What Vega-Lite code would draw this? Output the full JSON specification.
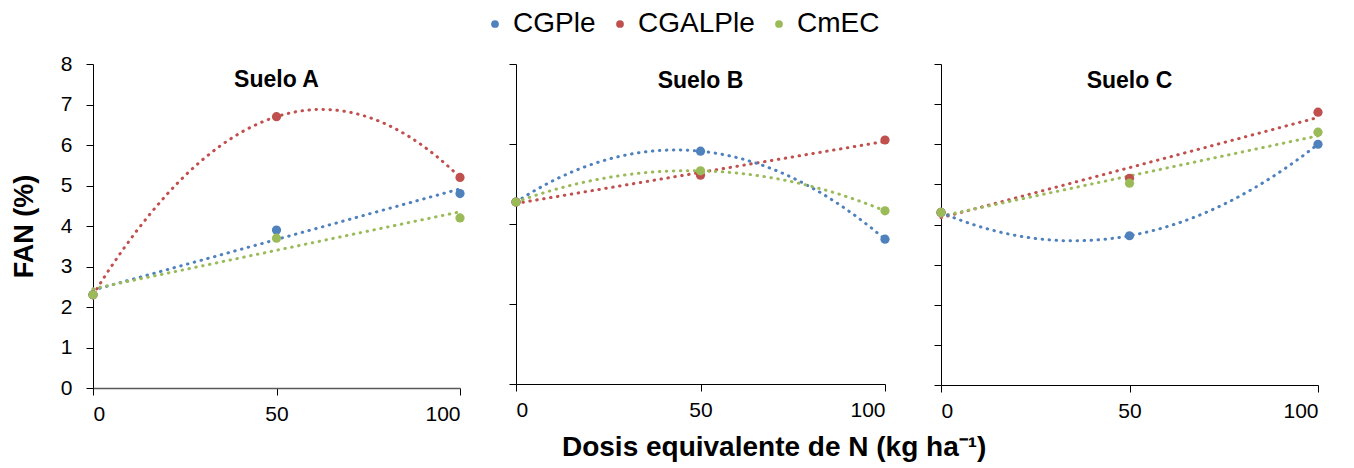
{
  "$schema": "https://vega.github.io/schema/vega-lite/v6.json",
  "background": "white",
  "padding": {"left": 10, "top": 10, "right": 5, "bottom": 5},
  "config": {
    "font": "Liberation Sans",
    "view": {"stroke": null},
    "axis": {"grid": false, "domainColor": "#000000", "tickColor": "#000000", "tickSize": 7, "labelFont": "Liberation Sans", "labelFontSize": 21, "labelColor": "#000000", "titleColor": "#000000", "titleFont": "Liberation Sans"},
    "legend": {"orient": "none", "direction": "horizontal", "legendX": 388, "legendY": -54, "title": null, "labelFontSize": 28, "labelFont": "Liberation Sans", "labelColor": "#000000", "symbolSize": 60, "symbolType": "circle", "symbolStrokeWidth": 0, "columnPadding": 10, "labelOffset": 4},
    "concat": {"spacing": 42},
    "title": {"font": "Liberation Sans", "color": "#000000"}
  },
  "data": {"values": [
    {"suelo": "Suelo A", "serie": "CGPle", "dosis": 0, "fan": 2.3},
    {"suelo": "Suelo A", "serie": "CGPle", "dosis": 50, "fan": 3.9},
    {"suelo": "Suelo A", "serie": "CGPle", "dosis": 100, "fan": 4.8},
    {"suelo": "Suelo A", "serie": "CGALPle", "dosis": 0, "fan": 2.3},
    {"suelo": "Suelo A", "serie": "CGALPle", "dosis": 50, "fan": 6.7},
    {"suelo": "Suelo A", "serie": "CGALPle", "dosis": 100, "fan": 5.2},
    {"suelo": "Suelo A", "serie": "CmEC", "dosis": 0, "fan": 2.3},
    {"suelo": "Suelo A", "serie": "CmEC", "dosis": 50, "fan": 3.7},
    {"suelo": "Suelo A", "serie": "CmEC", "dosis": 100, "fan": 4.2},
    {"suelo": "Suelo B", "serie": "CGPle", "dosis": 0, "fan": 4.55},
    {"suelo": "Suelo B", "serie": "CGPle", "dosis": 50, "fan": 5.82},
    {"suelo": "Suelo B", "serie": "CGPle", "dosis": 100, "fan": 3.62},
    {"suelo": "Suelo B", "serie": "CGALPle", "dosis": 0, "fan": 4.55},
    {"suelo": "Suelo B", "serie": "CGALPle", "dosis": 50, "fan": 5.22},
    {"suelo": "Suelo B", "serie": "CGALPle", "dosis": 100, "fan": 6.1},
    {"suelo": "Suelo B", "serie": "CmEC", "dosis": 0, "fan": 4.55},
    {"suelo": "Suelo B", "serie": "CmEC", "dosis": 50, "fan": 5.33},
    {"suelo": "Suelo B", "serie": "CmEC", "dosis": 100, "fan": 4.33},
    {"suelo": "Suelo C", "serie": "CGPle", "dosis": 0, "fan": 4.3},
    {"suelo": "Suelo C", "serie": "CGPle", "dosis": 50, "fan": 3.72},
    {"suelo": "Suelo C", "serie": "CGPle", "dosis": 100, "fan": 6.0},
    {"suelo": "Suelo C", "serie": "CGALPle", "dosis": 0, "fan": 4.3},
    {"suelo": "Suelo C", "serie": "CGALPle", "dosis": 50, "fan": 5.15},
    {"suelo": "Suelo C", "serie": "CGALPle", "dosis": 100, "fan": 6.8},
    {"suelo": "Suelo C", "serie": "CmEC", "dosis": 0, "fan": 4.3},
    {"suelo": "Suelo C", "serie": "CmEC", "dosis": 50, "fan": 5.03},
    {"suelo": "Suelo C", "serie": "CmEC", "dosis": 100, "fan": 6.3}
  ]},
  "title": {"text": "Dosis equivalente de N (kg ha⁻¹)", "orient": "bottom", "anchor": "middle", "fontSize": 28, "fontWeight": "bold", "dx": 107, "offset": 10},
  "hconcat": [
    {
      "width": 367, "height": 324,
      "title": {"text": "Suelo A", "fontSize": 23, "fontWeight": "bold", "offset": -39, "anchor": "middle", "frame": "group"},
      "layer": [
        {
          "transform": [{"filter": "datum.suelo === 'Suelo A' && datum.serie !== 'CGALPle'"}, {"regression": "fan", "on": "dosis", "groupby": ["serie"], "extent": [0, 100]}],
          "mark": {"type": "line", "strokeWidth": 3, "strokeDash": [0.5, 6.5], "strokeCap": "round"},
          "encoding": {
            "x": {"field": "dosis", "type": "quantitative", "scale": {"domain": [0, 100], "nice": false}, "axis": {"values": [0, 50, 100], "title": null, "labelPadding": 8, "domainColor": "#595959", "domainWidth": 1.5}},
            "y": {"field": "fan", "type": "quantitative", "scale": {"domain": [0, 8], "nice": false}, "axis": {"values": [0, 1, 2, 3, 4, 5, 6, 7, 8], "title": "FAN (%)", "titleFontSize": 27, "titleFontWeight": "bold", "labelPadding": 14, "titlePadding": 22}},
            "color": {"field": "serie", "type": "nominal", "scale": {"domain": ["CGPle", "CGALPle", "CmEC"], "range": ["#4F81BD", "#C0504D", "#9BBB59"]}}
          }
        },
        {
          "transform": [{"filter": "datum.suelo === 'Suelo A' && datum.serie === 'CGALPle'"}, {"regression": "fan", "on": "dosis", "groupby": ["serie"], "method": "poly", "order": 2, "extent": [0, 100]}],
          "mark": {"type": "line", "strokeWidth": 3, "strokeDash": [0.5, 6.5], "strokeCap": "round"},
          "encoding": {
            "x": {"field": "dosis", "type": "quantitative"},
            "y": {"field": "fan", "type": "quantitative"},
            "color": {"field": "serie", "type": "nominal"}
          }
        },
        {
          "transform": [{"filter": "datum.suelo === 'Suelo A'"}],
          "mark": {"type": "circle", "size": 85, "opacity": 1},
          "encoding": {
            "x": {"field": "dosis", "type": "quantitative"},
            "y": {"field": "fan", "type": "quantitative"},
            "color": {"field": "serie", "type": "nominal"}
          }
        }
      ]
    },
    {
      "width": 369, "height": 320,
      "title": {"text": "Suelo B", "fontSize": 23, "fontWeight": "bold", "offset": -29, "anchor": "middle", "frame": "group"},
      "layer": [
        {
          "transform": [{"filter": "datum.suelo === 'Suelo B' && datum.serie === 'CGALPle'"}, {"regression": "fan", "on": "dosis", "groupby": ["serie"], "extent": [0, 100]}],
          "mark": {"type": "line", "strokeWidth": 3, "strokeDash": [0.5, 6.5], "strokeCap": "round"},
          "encoding": {
            "x": {"field": "dosis", "type": "quantitative", "scale": {"domain": [0, 100], "nice": false}, "axis": {"values": [0, 50, 100], "title": null, "labelPadding": 8}},
            "y": {"field": "fan", "type": "quantitative", "scale": {"domain": [0, 8], "nice": false}, "axis": {"values": [0, 1, 2, 3, 4, 5, 6, 7, 8], "title": null, "labels": false}},
            "color": {"field": "serie", "type": "nominal", "scale": {"domain": ["CGPle", "CGALPle", "CmEC"], "range": ["#4F81BD", "#C0504D", "#9BBB59"]}}
          }
        },
        {
          "transform": [{"filter": "datum.suelo === 'Suelo B' && datum.serie !== 'CGALPle'"}, {"regression": "fan", "on": "dosis", "groupby": ["serie"], "method": "poly", "order": 2, "extent": [0, 100]}],
          "mark": {"type": "line", "strokeWidth": 3, "strokeDash": [0.5, 6.5], "strokeCap": "round"},
          "encoding": {
            "x": {"field": "dosis", "type": "quantitative"},
            "y": {"field": "fan", "type": "quantitative"},
            "color": {"field": "serie", "type": "nominal"}
          }
        },
        {
          "transform": [{"filter": "datum.suelo === 'Suelo B'"}],
          "mark": {"type": "circle", "size": 85, "opacity": 1},
          "encoding": {
            "x": {"field": "dosis", "type": "quantitative"},
            "y": {"field": "fan", "type": "quantitative"},
            "color": {"field": "serie", "type": "nominal"}
          }
        }
      ]
    },
    {
      "width": 377, "height": 321,
      "title": {"text": "Suelo C", "fontSize": 23, "fontWeight": "bold", "offset": -29, "anchor": "middle", "frame": "group"},
      "layer": [
        {
          "transform": [{"filter": "datum.suelo === 'Suelo C' && datum.serie !== 'CGPle'"}, {"regression": "fan", "on": "dosis", "groupby": ["serie"], "extent": [0, 100]}],
          "mark": {"type": "line", "strokeWidth": 3, "strokeDash": [0.5, 6.5], "strokeCap": "round"},
          "encoding": {
            "x": {"field": "dosis", "type": "quantitative", "scale": {"domain": [0, 100], "nice": false}, "axis": {"values": [0, 50, 100], "title": null, "labelPadding": 8}},
            "y": {"field": "fan", "type": "quantitative", "scale": {"domain": [0, 8], "nice": false}, "axis": {"values": [0, 1, 2, 3, 4, 5, 6, 7, 8], "title": null, "labels": false}},
            "color": {"field": "serie", "type": "nominal", "scale": {"domain": ["CGPle", "CGALPle", "CmEC"], "range": ["#4F81BD", "#C0504D", "#9BBB59"]}}
          }
        },
        {
          "transform": [{"filter": "datum.suelo === 'Suelo C' && datum.serie === 'CGPle'"}, {"regression": "fan", "on": "dosis", "groupby": ["serie"], "method": "poly", "order": 2, "extent": [0, 100]}],
          "mark": {"type": "line", "strokeWidth": 3, "strokeDash": [0.5, 6.5], "strokeCap": "round"},
          "encoding": {
            "x": {"field": "dosis", "type": "quantitative"},
            "y": {"field": "fan", "type": "quantitative"},
            "color": {"field": "serie", "type": "nominal"}
          }
        },
        {
          "transform": [{"filter": "datum.suelo === 'Suelo C'"}],
          "mark": {"type": "circle", "size": 85, "opacity": 1},
          "encoding": {
            "x": {"field": "dosis", "type": "quantitative"},
            "y": {"field": "fan", "type": "quantitative"},
            "color": {"field": "serie", "type": "nominal"}
          }
        }
      ]
    }
  ]
}
